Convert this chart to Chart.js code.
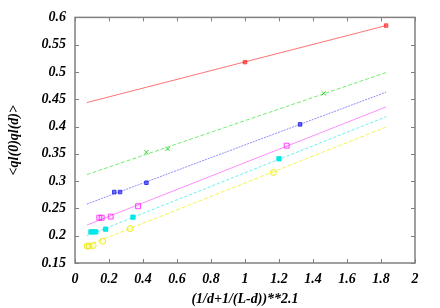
<!DOCTYPE html>
<html>
<head>
<meta charset="utf-8">
<script src="https://cdn.jsdelivr.net/npm/chart.js@4/dist/chart.umd.min.js"></script>
<style>
  html, body { margin: 0; padding: 0; background: #fff; }
  #c { display: block; }
</style>
</head>
<body>
<canvas id="c" width="440" height="308"></canvas>
<script>
// measured points, one pair of arrays per curve
const redX = [1.0, 1.83];
const redY = [0.518, 0.585];
const greenX = [0.42, 0.545, 1.463];
const greenY = [0.353, 0.359, 0.461];
const blueX = [0.231, 0.265, 0.42, 1.324];
const blueY = [0.280, 0.280, 0.297, 0.404];
const magentaX = [0.143, 0.157, 0.21, 0.371, 1.245];
const magentaY = [0.233, 0.233, 0.235, 0.254, 0.365];
const cyanX = [0.094, 0.108, 0.122, 0.18, 0.341, 1.2];
const cyanY = [0.207, 0.207, 0.207, 0.212, 0.234, 0.341];
const yellowX = [0.071, 0.082, 0.106, 0.163, 0.324, 1.167];
const yellowY = [0.181, 0.181, 0.182, 0.190, 0.213, 0.316];

// fitted lines (ends)
const fitX = [0.07, 1.83];
const redFit = [0.444, 0.585];
const greenFit = [0.312, 0.499];
const blueFit = [0.258, 0.463];
const magentaFit = [0.2195, 0.436];
const cyanFit = [0.200, 0.418];
const yellowFit = [0.182, 0.399];

const xTitle = '(1/d+1/(L-d))**2.1';
const yTitle = '<ql(0)ql(d)>';

const pts = (xs, ys) => xs.map((x, i) => ({ x: x, y: ys[i] }));

const tickFont = { family: 'Liberation Serif', size: 14, weight: 'bold', style: 'italic' };
// gnuplot style labels: 0, 0.2, 1, 0.55 ...
const shortNum = v => String(+Number(v).toFixed(2));

const fitLine = (ys, color, dash) => ({
  data: pts(fitX, ys),
  showLine: true,
  borderColor: color,
  borderWidth: 1,
  borderDash: dash,
  pointRadius: 0,
  fill: false,
});

const marks = (xs, ys, style, color, fillColor, r) => ({
  data: pts(xs, ys),
  showLine: false,
  pointStyle: style,
  pointRadius: r,
  borderColor: color,
  backgroundColor: fillColor,
  pointBorderWidth: 1,
});

// frame round the plot with inward ticks on all four sides
const framePlugin = {
  id: 'frame',
  afterDraw(chart) {
    const { ctx, chartArea: a, scales } = chart;
    ctx.save();
    ctx.strokeStyle = '#808080';
    ctx.lineWidth = 1.5;
    ctx.strokeRect(a.left, a.top, a.right - a.left, a.bottom - a.top);
    ctx.lineWidth = 1;
    ctx.beginPath();
    scales.x.ticks.forEach(t => {
      const px = Math.round(scales.x.getPixelForValue(t.value)) + 0.5;
      ctx.moveTo(px, a.bottom); ctx.lineTo(px, a.bottom - 4);
      ctx.moveTo(px, a.top); ctx.lineTo(px, a.top + 4);
    });
    scales.y.ticks.forEach(t => {
      const py = Math.round(scales.y.getPixelForValue(t.value)) + 0.5;
      ctx.moveTo(a.left, py); ctx.lineTo(a.left + 4, py);
      ctx.moveTo(a.right, py); ctx.lineTo(a.right - 4, py);
    });
    ctx.stroke();
    ctx.restore();
  }
};

new Chart(document.getElementById('c'), {
  type: 'scatter',
  data: {
    datasets: [
      fitLine(redFit, 'rgba(255,0,0,0.55)', []),
      fitLine(greenFit, 'rgba(0,220,0,0.55)', [4, 2]),
      fitLine(blueFit, 'rgba(0,0,255,0.45)', [2, 1]),
      fitLine(magentaFit, 'rgba(255,0,255,0.45)', []),
      fitLine(cyanFit, 'rgba(0,230,230,0.6)', [3, 2]),
      fitLine(yellowFit, 'rgba(240,240,0,0.7)', [4, 2]),
      marks(redX, redY, 'rect', 'rgba(255,60,60,0.8)', 'rgba(255,80,80,0.8)', 2.5),
      marks(greenX, greenY, 'crossRot', 'rgba(0,200,0,0.8)', 'rgba(0,200,0,0.8)', 3),
      marks(blueX, blueY, 'rect', 'rgba(40,40,230,0.85)', 'rgba(60,60,255,0.75)', 2.5),
      marks(magentaX, magentaY, 'rect', 'rgba(255,0,255,0.7)', 'rgba(255,0,255,0.1)', 3.5),
      marks(cyanX, cyanY, 'rect', 'rgb(0,230,230)', 'rgb(0,235,235)', 3),
      marks(yellowX, yellowY, 'circle', 'rgba(230,230,0,0.8)', 'rgba(255,255,0,0.15)', 3),
    ]
  },
  options: {
    responsive: false,
    animation: false,
    devicePixelRatio: 1,
    layout: { padding: { left: 0, top: 17, right: 25, bottom: 0 } },
    plugins: { legend: { display: false }, tooltip: { enabled: false } },
    scales: {
      x: {
        type: 'linear',
        min: 0,
        max: 2,
        grid: { display: false, drawTicks: false },
        border: { display: false },
        ticks: { stepSize: 0.2, color: '#000', font: tickFont, padding: 8, maxRotation: 0, callback: shortNum },
        title: { display: true, text: xTitle, color: '#000', font: tickFont, padding: { top: 0, bottom: 0 } },
        afterFit(scale) { scale.height = 45; }
      },
      y: {
        type: 'linear',
        min: 0.15,
        max: 0.6,
        grid: { display: false, drawTicks: false },
        border: { display: false },
        ticks: { stepSize: 0.05, color: '#000', font: tickFont, padding: 9, callback: shortNum },
        title: { display: true, text: yTitle, color: '#000', font: tickFont, padding: { top: 6, bottom: 0 } },
        afterFit(scale) { scale.width = 75; }
      }
    }
  },
  plugins: [framePlugin]
});
</script>
</body>
</html>
